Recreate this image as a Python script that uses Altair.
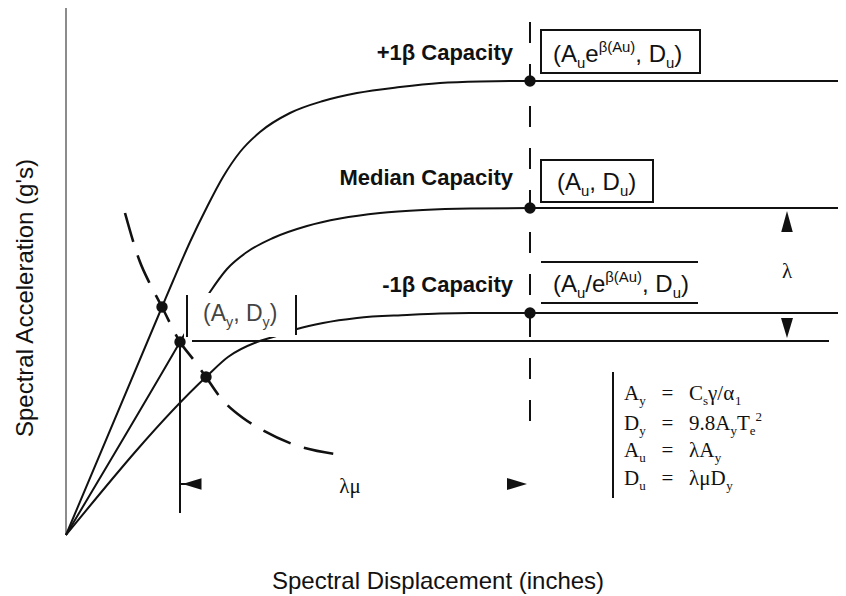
import altair as alt
import pandas as pd

# ---- schematic data (sd = spectral displacement units, sa = spectral acceleration units) ----
plus_sd = [0, 96, 107, 124, 141, 157, 174, 194, 224, 257, 291, 334, 374, 414, 464, 772]
plus_sa = [0, 228, 254, 293, 328, 358, 383, 403, 422, 434, 442, 448, 452, 453.5, 454, 454]

med_sd = [0, 114, 129, 144, 161, 181, 207, 241, 274, 314, 357, 404, 464, 772]
med_sa = [0, 193, 219, 243, 266, 283, 297, 309, 316.5, 322, 325, 326.5, 327, 327]

minus_sd = [0, 140, 162, 191, 207, 231, 257, 291, 341, 374, 404, 464, 772]
minus_sa = [0, 158, 178, 193, 198, 206, 212, 217, 220, 221.5, 222, 222, 222]

demand_sd = [59, 74, 84, 96, 114, 127, 140, 154, 177, 191, 229, 276]
demand_sa = [322, 273, 251, 228, 193, 176, 158, 138, 117, 108, 90, 80]

dot_sd = [96, 114, 140, 464, 464, 464]
dot_sa = [228, 193, 158, 454, 327, 222]

# capacity labels
cap_labels = ["+1β Capacity", "Median Capacity", "-1β Capacity"]
cap_sa = [475, 350, 243]
cap_sd = 447

XS = alt.Scale(domain=[-58, 772], nice=False, zero=False)
YS = alt.Scale(domain=[-59, 527], nice=False, zero=False)


def X(f="sd"):
    return alt.X(f"{f}:Q", scale=XS, axis=None)


def Y(f="sa"):
    return alt.Y(f"{f}:Q", scale=YS, axis=None)


# curves
rows = []
for name, xs, ys in [("plus", plus_sd, plus_sa), ("med", med_sd, med_sa), ("minus", minus_sd, minus_sa)]:
    for i, (a, b) in enumerate(zip(xs, ys)):
        rows.append({"curve": name, "ord": i, "sd": a, "sa": b})
curves_df = pd.DataFrame(rows)
demand_df = pd.DataFrame({"sd": demand_sd, "sa": demand_sa, "ord": range(len(demand_sd))})

curves = alt.Chart(curves_df).mark_line(interpolate="monotone", color="#111", strokeWidth=2).encode(
    x=X(), y=Y(), detail="curve:N", order="ord:Q")
demand = alt.Chart(demand_df).mark_line(interpolate="monotone", color="#111", strokeWidth=2.6,
                                        strokeDash=[30, 14]).encode(x=X(), y=Y(), order="ord:Q")

# frame lines
frame_df = pd.DataFrame({"sd": [0, 0], "sa": [530, 530], "sd2": [0, 780], "sa2": [0, 530]})
frame = alt.Chart(frame_df).mark_rule(color="#8c8c8c", strokeWidth=2).encode(
    x=X(), y=Y(), x2="sd2:Q", y2="sa2:Q")

# dashed vertical at ultimate displacement
dash_df = pd.DataFrame({"sd": [464], "sa": [513], "sd2": [464], "sa2": [102]})
dashed = alt.Chart(dash_df).mark_rule(color="#111", strokeWidth=2, strokeDash=[21, 21]).encode(
    x=X(), y=Y(), x2="sd2:Q", y2="sa2:Q")

# white mask behind the (Ay, Dy) label
mask_df = pd.DataFrame({"sd": [118], "sa": [242], "sd2": [230], "sa2": [198]})
mask = alt.Chart(mask_df).mark_rect(color="white").encode(x=X(), y=Y(), x2="sd2:Q", y2="sa2:Q")

# solid rules
rule_df = pd.DataFrame({
    "sd":  [126, 114, 121, 230, 547, 114, 475, 475],
    "sa":  [194, 194, 240, 240, 163, 51, 273, 232],
    "sd2": [763, 114, 121, 230, 547, 124, 632, 632],
    "sa2": [194, 22, 198, 200, 37, 51, 273, 232],
})
rules = alt.Chart(rule_df).mark_rule(color="#111", strokeWidth=2).encode(
    x=X(), y=Y(), x2="sd2:Q", y2="sa2:Q")

# boxes
box_df = pd.DataFrame({"sd": [475, 475], "sa": [505, 375], "sd2": [634, 587], "sa2": [462, 333]})
boxes = alt.Chart(box_df).mark_rect(fill="white", fillOpacity=0, stroke="#111", strokeWidth=2).encode(
    x=X(), y=Y(), x2="sd2:Q", y2="sa2:Q")

# dots and arrowheads
UP = "M0,-1L0.55,1L-0.55,1Z"
DOWN = "M0,1L0.6,-1L-0.6,-1Z"
LEFT = "M-1,0L1,-0.6L1,0.6Z"
RIGHT = "M1,0L-1,-0.6L-1,0.6Z"
pts = [{"sd": a, "sa": b, "shape": "circle", "sz": 130} for a, b in zip(dot_sd, dot_sa)]
pts += [
    {"sd": 721, "sa": 313.5, "shape": UP, "sz": 441},
    {"sd": 721, "sa": 207, "shape": DOWN, "sz": 400},
    {"sd": 126, "sa": 51, "shape": LEFT, "sz": 361},
    {"sd": 451, "sa": 51, "shape": RIGHT, "sz": 400},
]
points = alt.Chart(pd.DataFrame(pts)).mark_point(filled=True, color="#111", opacity=1).encode(
    x=X(), y=Y(), shape=alt.Shape("shape:N", scale=None), size=alt.Size("sz:Q", scale=None))

# ---- rich text (subscripts / superscripts) ----
NB = "\u00a0"
SANS_W = {"(": .333, ")": .333, "A": .667, "D": .722, "e": .556, ",": .278, " ": .278,
          "/": .278, "u": .556, "y": .5, "β": .575}
SERIF_W = {"A": .722, "D": .722, "C": .667, "T": .611, "=": .564, " ": .25, NB: .25,
           "9": .5, ".": .25, "8": .5, "/": .278, "y": .5, "s": .389, "u": .5, "e": .444,
           "1": .5, "2": .5, "γ": .45, "α": .55, "λ": .5, "μ": .55}


def layout(pieces, sd0, sa0, size, widths, color):
    out, x = [], sd0
    for txt, role in pieces:
        fs = size if role == "b" else round(size * 0.62, 1)
        off = 0 if role == "b" else (-0.25 * size if role == "sub" else 0.42 * size)
        stripped = txt.lstrip(" " + NB)
        lead = len(txt) - len(stripped)
        x += lead * widths.get(NB, 0.25) * fs
        out.append({"sd": x, "sa": sa0 + off, "t": stripped, "fs": fs, "c": color})
        x += sum(widths.get(ch, 0.55) for ch in stripped) * fs
    return out


EQ = " " * 3 + "=" + NB * 3
sans_rows = []
sans_rows += layout([("(A", "b"), ("u", "sub"), ("e", "b"), ("β(Au)", "sup"), (", D", "b"), ("u", "sub"), (")", "b")],
                    487, 473, 24, SANS_W, "#111")
sans_rows += layout([("(A", "b"), ("u", "sub"), (", D", "b"), ("u", "sub"), (")", "b")],
                    491, 345, 24, SANS_W, "#111")
sans_rows += layout([("(A", "b"), ("u", "sub"), ("/e", "b"), ("β(Au)", "sup"), (", D", "b"), ("u", "sub"), (")", "b")],
                    487, 243, 24, SANS_W, "#111")
sans_rows += layout([("(A", "b"), ("y", "sub"), (", D", "b"), ("y", "sub"), (")", "b")],
                    137, 214, 23, SANS_W, "#444")

serif_rows = []
serif_rows += layout([("A", "b"), ("y", "sub"), (EQ + "C", "b"), ("s", "sub"), ("γ/α", "b"), ("1", "sub")],
                     558, 135, 21, SERIF_W, "#111")
serif_rows += layout([("D", "b"), ("y", "sub"), (EQ + "9.8A", "b"), ("y", "sub"), ("T", "b"), ("e", "sub"), ("2", "sup")],
                     558, 105, 21, SERIF_W, "#111")
serif_rows += layout([("A", "b"), ("u", "sub"), (EQ + "λA", "b"), ("y", "sub")],
                     558, 78, 21, SERIF_W, "#111")
serif_rows += layout([("D", "b"), ("u", "sub"), (EQ + "λμD", "b"), ("y", "sub")],
                     558, 50, 21, SERIF_W, "#111")

sans_text = alt.Chart(pd.DataFrame(sans_rows)).mark_text(
    align="left", baseline="alphabetic", font="Liberation Sans").encode(
    x=X(), y=Y(), text="t:N", size=alt.Size("fs:Q", scale=None), color=alt.Color("c:N", scale=None))
serif_text = alt.Chart(pd.DataFrame(serif_rows)).mark_text(
    align="left", baseline="alphabetic", font="Liberation Serif").encode(
    x=X(), y=Y(), text="t:N", size=alt.Size("fs:Q", scale=None), color=alt.Color("c:N", scale=None))

sym_df = pd.DataFrame({"sd": [721, 284], "sa": [263, 48], "t": ["λ", "λμ"]})
sym_text = alt.Chart(sym_df).mark_text(
    align="center", baseline="middle", font="Liberation Serif", fontSize=21, color="#111").encode(
    x=X(), y=Y(), text="t:N")

cap_df = pd.DataFrame({"sd": [cap_sd] * 3, "sa": cap_sa, "t": cap_labels})
cap_text = alt.Chart(cap_df).mark_text(
    align="right", baseline="alphabetic", font="Liberation Sans", fontWeight="bold",
    fontSize=22, color="#111").encode(x=X(), y=Y(), text="t:N")

xt_df = pd.DataFrame({"sd": [372], "sa": [-47], "t": ["Spectral Displacement (inches)"]})
x_title = alt.Chart(xt_df).mark_text(
    align="center", baseline="middle", font="Liberation Sans", fontSize=24, color="#111").encode(
    x=X(), y=Y(), text="t:N")
yt_df = pd.DataFrame({"sd": [-40], "sa": [237], "t": ["Spectral Acceleration (g's)"]})
y_title = alt.Chart(yt_df).mark_text(
    align="center", baseline="middle", font="Liberation Sans", fontSize=24, angle=270, color="#111").encode(
    x=X(), y=Y(), text="t:N")

chart = alt.layer(
    frame, curves, demand, dashed, mask, rules, boxes, points,
    sans_text, serif_text, sym_text, cap_text, x_title, y_title,
).properties(
    width=830, height=586,
    autosize=alt.AutoSizeParams(type="none"),
    padding={"left": 0, "right": 0, "top": 0, "bottom": 0},
).configure_view(stroke=None)

chart.save("out.html", embed_options={"renderer": "svg", "actions": False})
